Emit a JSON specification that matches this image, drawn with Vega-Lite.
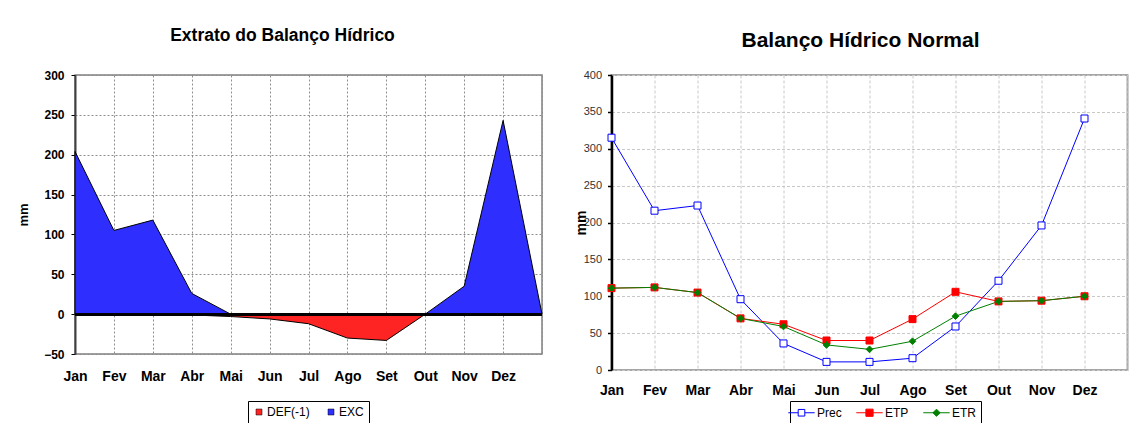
{
  "$schema": "https://vega.github.io/schema/vega-lite/v6.json",
  "background": "white",
  "padding": {"left": 16, "top": 25, "right": 0, "bottom": 0},
  "config": {
    "font": "Liberation Sans",
    "concat": {"spacing": 27.5},
    "title": {"color": "black", "fontWeight": "bold", "anchor": "middle"},
    "legend": {"labelColor": "black", "labelFont": "Liberation Sans"}
  },
  "datasets": {
    "extrato": [
      {"mes": "Jan", "serie": "EXC", "mm": 204},
      {"mes": "Fev", "serie": "EXC", "mm": 105},
      {"mes": "Mar", "serie": "EXC", "mm": 118},
      {"mes": "Abr", "serie": "EXC", "mm": 26},
      {"mes": "Mai", "serie": "EXC", "mm": 0},
      {"mes": "Jun", "serie": "EXC", "mm": 0},
      {"mes": "Jul", "serie": "EXC", "mm": 0},
      {"mes": "Ago", "serie": "EXC", "mm": 0},
      {"mes": "Set", "serie": "EXC", "mm": 0},
      {"mes": "Out", "serie": "EXC", "mm": 0},
      {"mes": "Nov", "serie": "EXC", "mm": 35},
      {"mes": "Dez", "serie": "EXC", "mm": 243},
      {"mes": "", "serie": "EXC", "mm": 0},
      {"mes": "Jan", "serie": "DEF(-1)", "mm": 0},
      {"mes": "Fev", "serie": "DEF(-1)", "mm": 0},
      {"mes": "Mar", "serie": "DEF(-1)", "mm": 0},
      {"mes": "Abr", "serie": "DEF(-1)", "mm": -1},
      {"mes": "Mai", "serie": "DEF(-1)", "mm": -3},
      {"mes": "Jun", "serie": "DEF(-1)", "mm": -6},
      {"mes": "Jul", "serie": "DEF(-1)", "mm": -12},
      {"mes": "Ago", "serie": "DEF(-1)", "mm": -30},
      {"mes": "Set", "serie": "DEF(-1)", "mm": -33},
      {"mes": "Out", "serie": "DEF(-1)", "mm": 0},
      {"mes": "Nov", "serie": "DEF(-1)", "mm": 0},
      {"mes": "Dez", "serie": "DEF(-1)", "mm": 0}
    ],
    "normal": [
      {"mes": "Jan", "serie": "Prec", "mm": 315},
      {"mes": "Fev", "serie": "Prec", "mm": 216},
      {"mes": "Mar", "serie": "Prec", "mm": 223},
      {"mes": "Abr", "serie": "Prec", "mm": 96},
      {"mes": "Mai", "serie": "Prec", "mm": 36},
      {"mes": "Jun", "serie": "Prec", "mm": 11},
      {"mes": "Jul", "serie": "Prec", "mm": 11},
      {"mes": "Ago", "serie": "Prec", "mm": 16},
      {"mes": "Set", "serie": "Prec", "mm": 59},
      {"mes": "Out", "serie": "Prec", "mm": 121},
      {"mes": "Nov", "serie": "Prec", "mm": 196},
      {"mes": "Dez", "serie": "Prec", "mm": 341},
      {"mes": "Jan", "serie": "ETP", "mm": 111},
      {"mes": "Fev", "serie": "ETP", "mm": 112},
      {"mes": "Mar", "serie": "ETP", "mm": 105},
      {"mes": "Abr", "serie": "ETP", "mm": 70},
      {"mes": "Mai", "serie": "ETP", "mm": 62},
      {"mes": "Jun", "serie": "ETP", "mm": 40},
      {"mes": "Jul", "serie": "ETP", "mm": 40},
      {"mes": "Ago", "serie": "ETP", "mm": 69},
      {"mes": "Set", "serie": "ETP", "mm": 106},
      {"mes": "Out", "serie": "ETP", "mm": 93},
      {"mes": "Nov", "serie": "ETP", "mm": 94},
      {"mes": "Dez", "serie": "ETP", "mm": 100},
      {"mes": "Jan", "serie": "ETR", "mm": 111},
      {"mes": "Fev", "serie": "ETR", "mm": 112},
      {"mes": "Mar", "serie": "ETR", "mm": 105},
      {"mes": "Abr", "serie": "ETR", "mm": 70},
      {"mes": "Mai", "serie": "ETR", "mm": 59},
      {"mes": "Jun", "serie": "ETR", "mm": 34},
      {"mes": "Jul", "serie": "ETR", "mm": 28},
      {"mes": "Ago", "serie": "ETR", "mm": 39},
      {"mes": "Set", "serie": "ETR", "mm": 73},
      {"mes": "Out", "serie": "ETR", "mm": 93},
      {"mes": "Nov", "serie": "ETR", "mm": 94},
      {"mes": "Dez", "serie": "ETR", "mm": 100}
    ]
  },
  "hconcat": [
    {
      "width": 467,
      "height": 279,
      "title": {"text": "Extrato do Balanço Hídrico", "fontSize": 17.5, "offset": 25, "dx": -26},
      "view": {"stroke": "#808080", "strokeWidth": 1.5},
      "data": {"name": "extrato"},
      "encoding": {
        "y": {
          "field": "mm", "type": "quantitative", "stack": null,
          "scale": {"domain": [-50, 300], "nice": false, "zero": false},
          "axis": {"title": "mm", "titleFontSize": 13, "titleFontWeight": "bold", "titleColor": "black",
            "titlePadding": 13, "values": [-50, 0, 50, 100, 150, 200, 250, 300], "labelOverlap": false,
            "labelFontSize": 12, "labelFontWeight": "bold", "labelColor": "black", "labelPadding": 7,
            "tickColor": "black", "tickSize": 4, "domainColor": "#404040", "domainWidth": 2,
            "grid": true, "gridColor": "#8c8c8c", "gridDash": [2, 2], "gridWidth": 1}
        }
      },
      "layer": [
        {
          "mark": {"type": "area", "stroke": "black", "strokeWidth": 1, "fillOpacity": 1},
          "encoding": {
            "x": {
              "field": "mes", "type": "ordinal", "sort": null,
              "scale": {"type": "point", "padding": 0,
                "domain": ["Jan", "Fev", "Mar", "Abr", "Mai", "Jun", "Jul", "Ago", "Set", "Out", "Nov", "Dez", ""]},
              "axis": {"title": null, "labelAngle": 0, "labelFontSize": 14, "labelFontWeight": "bold",
                "labelColor": "black", "labelPadding": 15, "ticks": false, "domain": false,
                "grid": true, "gridColor": "#8c8c8c", "gridDash": [2, 2], "gridWidth": 1}
            },
            "color": {
              "field": "serie", "type": "nominal",
              "scale": {"domain": ["DEF(-1)", "EXC"], "range": ["#ff2424", "#2e2eff"]},
              "legend": {"orient": "none", "legendX": 173, "legendY": 326, "direction": "horizontal",
                "title": null, "strokeColor": "black", "padding": 5, "labelFontSize": 12,
                "symbolType": "square", "symbolSize": 36, "symbolStrokeColor": "black",
                "symbolStrokeWidth": 0.5, "labelOffset": 2, "columnPadding": 15}
            }
          }
        },
        {
          "mark": {"type": "rule", "color": "black", "strokeWidth": 2},
          "encoding": {"y": {"datum": 0}}
        }
      ]
    },
    {
      "width": 516,
      "height": 295,
      "title": {"text": "Balanço Hídrico Normal", "fontSize": 21, "offset": 18, "dx": -9},
      "view": {"stroke": "#a6a6a6", "strokeWidth": 2},
      "data": {"name": "normal"},
      "encoding": {
        "x": {
          "field": "mes", "type": "ordinal", "sort": null,
          "scale": {"type": "point", "padding": 0,
            "domain": ["Jan", "Fev", "Mar", "Abr", "Mai", "Jun", "Jul", "Ago", "Set", "Out", "Nov", "Dez", ""]},
          "axis": {"title": null, "labelAngle": 0, "labelFontSize": 14, "labelFontWeight": "bold",
            "labelColor": "black", "labelPadding": 13, "ticks": false, "domain": false,
            "grid": true, "gridColor": "#c8c8c8", "gridDash": [3, 2], "gridWidth": 1}
        },
        "y": {
          "field": "mm", "type": "quantitative",
          "scale": {"domain": [0, 400], "nice": false},
          "axis": {"title": "mm", "titleFontSize": 14, "titleFontWeight": "bold", "titleColor": "black",
            "titlePadding": -5, "values": [0, 50, 100, 150, 200, 250, 300, 350, 400], "labelOverlap": false,
            "labelFontSize": 11, "labelColor": "#333333", "labelPadding": 6,
            "tickColor": "black", "tickSize": 4, "tickWidth": 1.5, "domainColor": "black", "domainWidth": 2.5,
            "grid": true, "gridColor": "#c8c8c8", "gridDash": [3, 2], "gridWidth": 1}
        },
        "stroke": {
          "field": "serie", "type": "nominal",
          "scale": {"domain": ["Prec", "ETP", "ETR"], "range": ["#0000ff", "#ff0000", "#008000"]},
          "legend": {"orient": "none", "legendX": 715, "legendY": 326, "direction": "horizontal",
            "title": null, "strokeColor": "black", "padding": 5, "labelFontSize": 12,
            "symbolSize": 144, "symbolStrokeWidth": 1, "symbolOpacity": 1,
            "labelOffset": 9, "columnPadding": 12}
        }
      },
      "layer": [
        {
          "mark": {"type": "line", "strokeWidth": 1}
        },
        {
          "mark": {"type": "point", "size": 144, "strokeWidth": 1, "opacity": 0},
          "encoding": {
            "shape": {"field": "serie", "type": "nominal",
              "scale": {"domain": ["Prec", "ETP", "ETR"],
                "range": ["M-2.2,0H-0.55M0.55,0H2.2M-0.55,-0.55H0.55V0.55H-0.55Z",
                          "M-2.2,0H2.2M-0.6,-0.6H0.6V0.6H-0.6Z",
                          "M-2.2,0H2.2M0,-0.6L0.6,0L0,0.6L-0.6,0Z"]},
              "legend": null},
            "fill": {"field": "serie", "type": "nominal",
              "scale": {"domain": ["Prec", "ETP", "ETR"], "range": ["#ffffff", "#ff0000", "#008000"]},
              "legend": null}
          }
        },
        {
          "transform": [{"filter": "datum.serie === 'Prec'"}],
          "mark": {"type": "point", "shape": "square", "size": 49, "strokeWidth": 1, "fill": "#ffffff", "filled": false, "fillOpacity": 1, "opacity": 1}
        },
        {
          "transform": [{"filter": "datum.serie === 'ETP'"}],
          "mark": {"type": "point", "shape": "square", "size": 49, "strokeWidth": 1, "fill": "#ff0000", "filled": false, "fillOpacity": 1, "opacity": 1}
        },
        {
          "transform": [{"filter": "datum.serie === 'ETR'"}],
          "mark": {"type": "point", "shape": "diamond", "size": 45, "strokeWidth": 1, "fill": "#008000", "filled": false, "fillOpacity": 1, "opacity": 1}
        }
      ]
    }
  ]
}
